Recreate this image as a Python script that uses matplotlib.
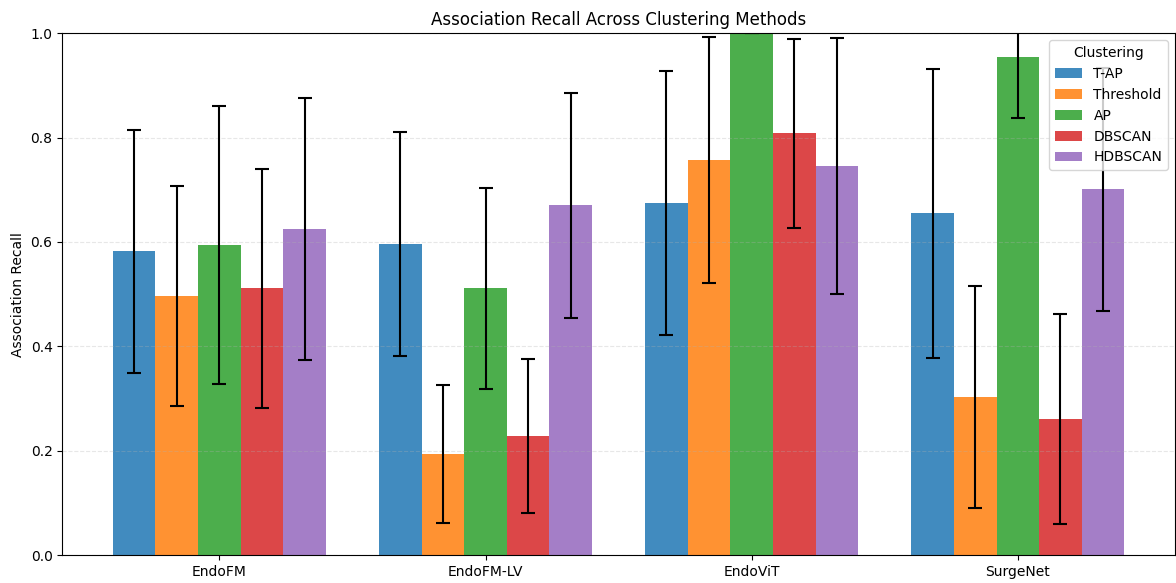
import numpy as np
import matplotlib
import matplotlib.pyplot as plt

matplotlib.use('Agg')

models = ['EndoFM', 'EndoFM-LV', 'EndoViT', 'SurgeNet']
methods = ['T-AP', 'Threshold', 'AP', 'DBSCAN', 'HDBSCAN']

# mean recall per model, one list per clustering method
tap_mean = [0.582, 0.596, 0.674, 0.655]
thr_mean = [0.496, 0.193, 0.757, 0.303]
ap_mean = [0.594, 0.511, 1.000, 0.954]
dbscan_mean = [0.511, 0.228, 0.808, 0.260]
hdbscan_mean = [0.625, 0.670, 0.745, 0.701]

# standard deviations
tap_std = [0.233, 0.215, 0.253, 0.277]
thr_std = [0.211, 0.132, 0.236, 0.212]
ap_std = [0.266, 0.193, 0.000, 0.117]
dbscan_std = [0.229, 0.148, 0.181, 0.201]
hdbscan_std = [0.251, 0.215, 0.245, 0.233]

means = [tap_mean, thr_mean, ap_mean, dbscan_mean, hdbscan_mean]
stds = [tap_std, thr_std, ap_std, dbscan_std, hdbscan_std]
colors = ['tab:blue', 'tab:orange', 'tab:green', 'tab:red', 'tab:purple']

fig, ax = plt.subplots(figsize=(11.76, 5.83), dpi=100)
fig.subplots_adjust(left=0.053, right=0.999, top=0.943, bottom=0.048)

x = np.arange(len(models))
width = 0.16
for i, (name, m, s) in enumerate(zip(methods, means, stds)):
    offset = (i - 2) * width
    ax.bar(x + offset, m, width, yerr=s, capsize=5, label=name,
           color=colors[i], alpha=0.85,
           error_kw={'elinewidth': 1.5, 'capthick': 1.5, 'ecolor': 'black'})

ax.set_xticks(x)
ax.set_xticklabels(models)
ax.set_ylim(0, 1.0)
ax.set_ylabel('Association Recall')
ax.set_title('Association Recall Across Clustering Methods')
ax.grid(axis='y', linestyle='--', alpha=0.3)
ax.legend(title='Clustering', loc='upper right')

plt.savefig('out.png')
